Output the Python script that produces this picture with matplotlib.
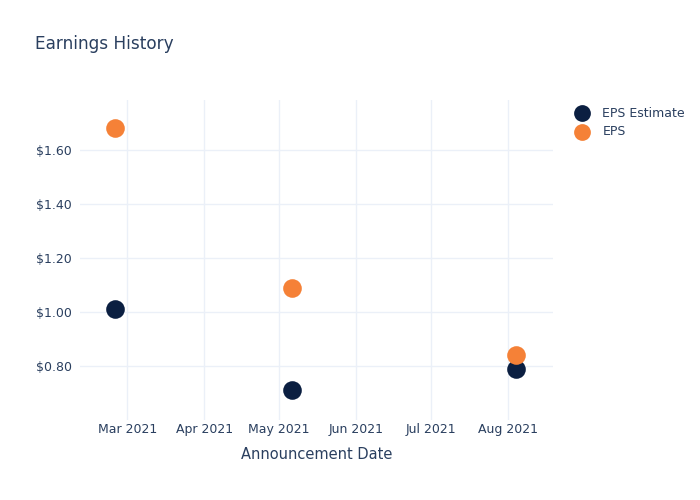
import matplotlib
matplotlib.use("Agg")
import matplotlib.pyplot as plt
import matplotlib.dates as mdates
import matplotlib.ticker as mticker
import pandas as pd

# earnings data
dates = pd.to_datetime(["2021-02-24", "2021-05-06", "2021-08-04"])
eps_estimate = [1.01, 0.71, 0.79]
eps_actual = [1.68, 1.09, 0.84]

TEXT = "#2a3f5f"
GRID = "#ebf0f8"
NAVY = "#0b1f41"
ORANGE = "#f58137"

fig = plt.figure(figsize=(7, 5), dpi=100)
ax = fig.add_axes([80 / 700, 80 / 500, 473 / 700, 320 / 500])

ax.scatter(dates, eps_estimate, s=180, color=NAVY, label="EPS Estimate", zorder=3, linewidths=0)
ax.scatter(dates, eps_actual, s=180, color=ORANGE, label="EPS", zorder=3, linewidths=0)

ax.set_xlim(pd.Timestamp("2021-02-10"), pd.Timestamp("2021-08-19"))
ax.set_ylim(0.60, 1.785)

ax.xaxis.set_major_locator(mdates.MonthLocator(bymonth=[3, 4, 5, 6, 7, 8]))
ax.xaxis.set_major_formatter(mdates.DateFormatter("%b %Y"))
ax.yaxis.set_major_locator(mticker.FixedLocator([0.8, 1.0, 1.2, 1.4, 1.6]))
ax.yaxis.set_major_formatter(mticker.FuncFormatter(lambda v, p: f"${v:.2f}"))

ax.grid(True, color=GRID, linewidth=1)
ax.set_axisbelow(True)
for s in ax.spines.values():
    s.set_visible(False)
ax.tick_params(length=0, labelsize=9, colors=TEXT)
ax.tick_params(axis="y", pad=6)
ax.tick_params(axis="x", pad=2)

ax.set_xlabel("Announcement Date", fontsize=10.5, color=TEXT, labelpad=8)
fig.text(35 / 700, 1 - 44 / 500, "Earnings History", fontsize=12.2, color=TEXT, va="center")

ax.legend(loc="upper left", bbox_to_anchor=(1.025, 0.995), frameon=False, fontsize=9,
          labelcolor=TEXT, handletextpad=0.6, borderaxespad=0, labelspacing=0.45,
          markerscale=0.9)

fig.savefig("out.png", dpi=100)
